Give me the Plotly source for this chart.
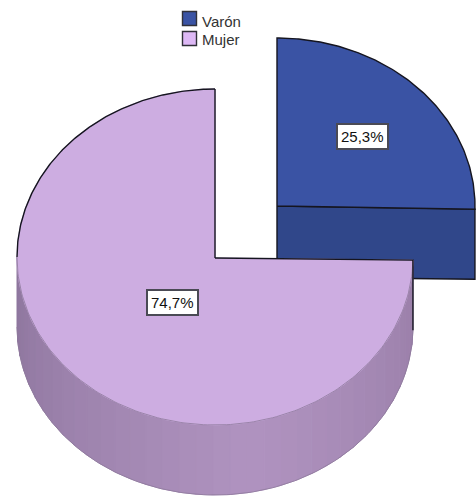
import numpy as np
import plotly.graph_objects as go

# Data
categories = ["Varón", "Mujer"]
percent_values = [25.3, 74.7]
label_texts = ["25,3%", "74,7%"]

# Style
TOP_COLORS = ["#3A53A4", "#CDADE1"]
SIDE_COLORS = ["#30478A", "#A98DBB"]
W, H = 476, 496
RX, RY, DEPTH = 198, 168, 70
CENTERS = [(277, 206), (215, 257)]
OUTLINE = "#15151F"

fig = go.Figure()


def arc(center, t0, t1, dy=0, n=160):
    t = np.radians(np.linspace(t0, t1, n))
    return center[0] + RX * np.sin(t), center[1] - RY * np.cos(t) + dy


def poly(x, y, fill, line=None, width=1, close=True, name=None):
    x, y = list(x), list(y)
    fig.add_trace(go.Scatter(
        x=x, y=y, mode="lines", fill="toself" if close else None,
        fillcolor=fill, line=dict(color=line or fill, width=width if (line or close) else 0),
        hoverinfo="skip", showlegend=False, name=name))


def line(x, y, color=OUTLINE, width=1.4):
    fig.add_trace(go.Scatter(x=list(x), y=list(y), mode="lines",
                             line=dict(color=color, width=width),
                             hoverinfo="skip", showlegend=False))


def mix(a, b, f):
    return "rgb(%d,%d,%d)" % tuple(round(a[i] + (b[i] - a[i]) * f) for i in range(3))


split = percent_values[0] / sum(percent_values) * 360

# Varón wedge: cut face then top
cv = CENTERS[0]
ax, ay = arc(cv, 0, split)
ex, ey = ax[-1], ay[-1]
poly([cv[0], ex, ex, cv[0], cv[0]], [cv[1], ey, ey + DEPTH, cv[1] + DEPTH + 1, cv[1]],
     SIDE_COLORS[0], OUTLINE, 1.4)
poly([cv[0], *ax, cv[0]], [cv[1], *ay, cv[1]], TOP_COLORS[0], OUTLINE, 1.4, name=categories[0])

# Mujer wedge: banded side wall, then top
cm = CENTERS[1]
dark = (0x8D, 0x75, 0x9D)
light = (0xB0, 0x93, 0xC0)
right = (0x99, 0x7E, 0xA8)
edges = np.linspace(split, 270, 37)
for a, b in zip(edges[:-1], edges[1:]):
    xt, yt = arc(cm, a, b, n=6)
    xb, yb = arc(cm, b, a, DEPTH, n=6)
    mid = (a + b) / 2
    if mid > 170:
        col = mix(light, dark, (mid - 170) / 100)
    else:
        col = mix(right, light, (mid - split) / (170 - split))
    poly([*xt, *xb, xt[0]], [*yt, *yb, yt[0]], col)

mx, my = arc(cm, split, 360)
apex_y = cm[1] + 1
poly([cm[0], *mx, cm[0]], [apex_y, *my, apex_y], TOP_COLORS[1], name=categories[1])

# Mujer edges
bx, by = arc(cm, split, 270)
line(bx, by, "#8E7A9C", 0.8)
lx, ly = arc(cm, 270, 360)
line(lx, ly)
sx, sy = arc(cm, split, 270, DEPTH)
line(sx, sy, "#8E7A9C", 0.8)
line([cm[0], cm[0]], [my[-1], apex_y])
line([cm[0], mx[0], mx[0]], [apex_y, my[0], my[0] + DEPTH])

# Legend swatches and names
SWATCH_X, SWATCH_Y = 189.5, [18.5, 38.5]
LEG_TEXT_Y = [21, 39.5]
for i, name in enumerate(categories):
    fig.add_trace(go.Scatter(
        x=[SWATCH_X], y=[SWATCH_Y[i]], mode="markers", hoverinfo="skip", showlegend=False,
        marker=dict(symbol="square", size=14, color=["#3A53A4", "#DDB8F5"][i],
                    line=dict(color="#303038", width=1.4))))
    fig.add_annotation(x=200, y=LEG_TEXT_Y[i], text=name, showarrow=False, xanchor="left",
                       font=dict(family="Liberation Sans", size=15, color="#333333"))

# Slice labels
LABEL_POS = [(362, 136), (172, 302)]
for (x, y), txt in zip(LABEL_POS, label_texts):
    fig.add_annotation(x=x, y=y, text=txt, showarrow=False, bgcolor="white",
                       bordercolor="#4A4A55", borderwidth=2, borderpad=3,
                       font=dict(family="Liberation Sans", size=15, color="#111111"))

fig.update_layout(
    width=W, height=H, margin=dict(l=0, r=0, t=0, b=0), autosize=False,
    paper_bgcolor="white", plot_bgcolor="white", showlegend=False,
    xaxis=dict(range=[0, W], visible=False, fixedrange=True),
    yaxis=dict(range=[H, 0], visible=False, fixedrange=True),
)
fig.write_html("out.html", config=dict(displayModeBar=False),
               post_script="document.body.style.margin='0';document.documentElement.style.overflow='hidden';")
